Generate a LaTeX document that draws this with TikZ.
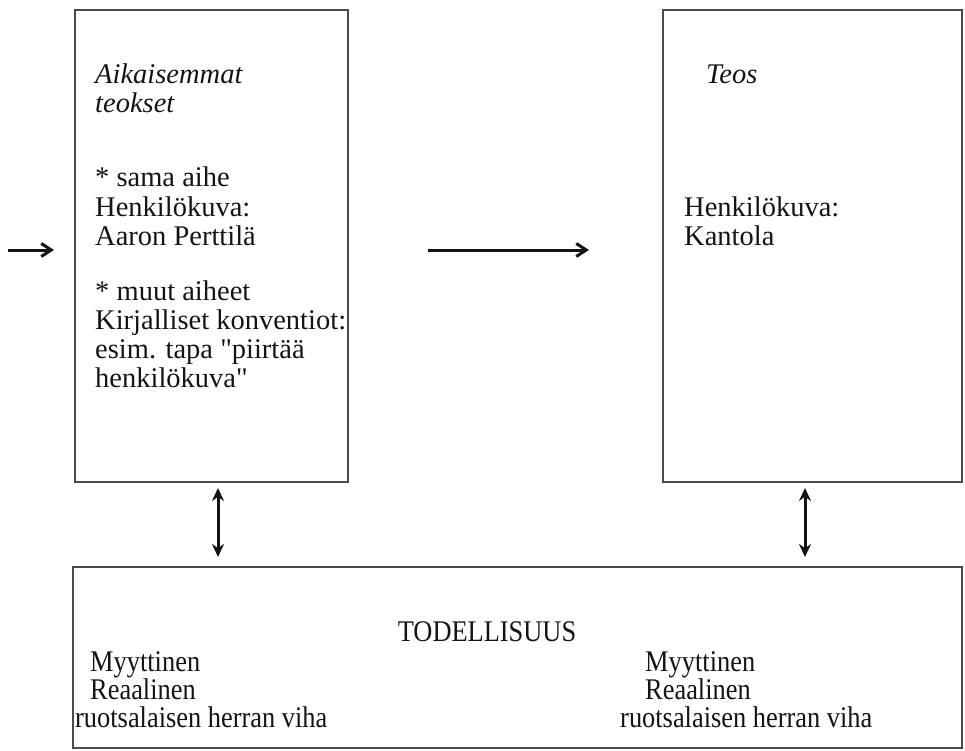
\documentclass[tikz,border=0pt]{standalone}
\usepackage{fontspec}
\setmainfont{Liberation Serif}[Ligatures=TeXOff]
\newfontfamily\condserif{Liberation Serif}[FakeStretch=0.88,Ligatures=TeXOff]
\usetikzlibrary{arrows.meta}
\definecolor{boxline}{HTML}{4A4A4A}
\definecolor{ink}{HTML}{141414}
\tikzset{
  frame/.style={draw=boxline, line width=2pt, inner sep=0pt, rectangle},
  txt/.style={inner sep=0pt, anchor=base west, text=ink, font=\fontsize{28.5}{29}\selectfont},
  btxt/.style={inner sep=0pt, anchor=base west, text=ink, font=\condserif\fontsize{30}{29}\selectfont},
  dbl/.style={line width=3pt, draw=ink, {Stealth[length=13pt,width=12pt]}-{Stealth[length=13pt,width=12pt]}},
  harrow/.style={line width=3pt, draw=ink, -{Straight Barb[length=10pt,width=13pt,line width=3pt]}}
}
\begin{document}
\begin{tikzpicture}[x=1pt,y=-1pt]
\useasboundingbox (0,0) rectangle (965,751);
% boxes
\node[frame, minimum width=273pt, minimum height=472pt] (lb) at (211.5,246) {};
\node[frame, minimum width=299pt, minimum height=472pt] (rb) at (812.5,246) {};
\node[frame, minimum width=889pt, minimum height=181pt] (bb) at (517.5,657.5) {};
% left box text
\node[txt] (a1) at (95,84) {\textit{Aikaisemmat}};
\node[txt] (a2) at (95,113) {\textit{teokset}};
\node[txt] (a3) at (95,187) {* sama aihe};
\node[txt] (a4) at (95,216) {Henkilökuva:};
\node[txt] (a5) at (95,245) {Aaron Perttilä};
\node[txt] (a6) at (95,300) {* muut aiheet};
\node[txt] (a7) at (95,329) {Kirjalliset konventiot:};
\node[txt] (a8) at (95,358) {esim. tapa "piirtää};
\node[txt] (a9) at (95,387) {henkilökuva"};
% right box text
\node[txt] (b1) at (706,84) {\textit{Teos}};
\node[txt] (b2) at (684,216) {Henkilökuva:};
\node[txt] (b3) at (684,245) {Kantola};
% bottom box text
\node[btxt, anchor=base] (c0) at (487,641) {TODELLISUUS};
\node[btxt] (c1) at (90,671) {Myyttinen};
\node[btxt] (c2) at (90,699) {Reaalinen};
\node[btxt] (c3) at (75,727) {ruotsalaisen herran viha};
\node[btxt] (d1) at (645,671) {Myyttinen};
\node[btxt] (d2) at (645,699) {Reaalinen};
\node[btxt] (d3) at (620,727) {ruotsalaisen herran viha};
% arrows
\coordinate (ay) at (0,250);
\coordinate (la) at (8,250);
\coordinate (lx) at (218,0);
\coordinate (rx) at (805,0);
\draw[harrow, shorten >=20pt] (la) -- (lb.west |- ay);
\draw[harrow, shorten <=79pt, shorten >=73pt] (lb.east |- ay) -- (rb.west |- ay);
\draw[dbl, shorten <=5pt, shorten >=9pt] (lb.south -| lx) -- (bb.north -| lx);
\draw[dbl, shorten <=5pt, shorten >=9pt] (rb.south -| rx) -- (bb.north -| rx);
\end{tikzpicture}
\end{document}
